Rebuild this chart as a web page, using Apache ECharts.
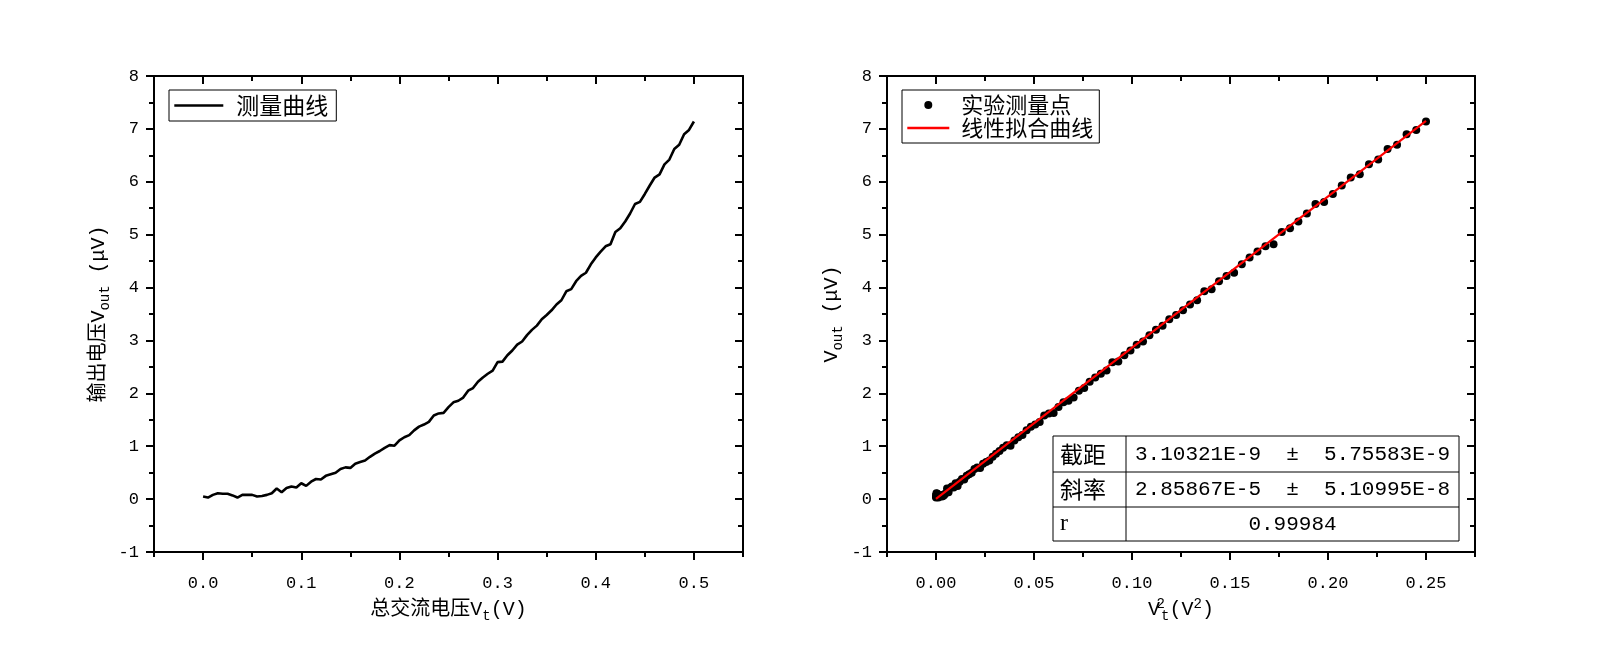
<!DOCTYPE html>
<html>
<head>
<meta charset="utf-8">
<script src="https://cdn.jsdelivr.net/npm/echarts@6.0.0/dist/echarts.min.js"></script>
<style>
html,body{margin:0;padding:0;background:#fff;}
#main{width:1597px;height:663px;}
</style>
</head>
<body>
<div id="main"></div>
<script>
// ---- data ----
const vt = [
  0.000,0.005,0.010,0.015,0.020,0.025,0.030,0.035,0.040,0.045,
  0.050,0.055,0.060,0.065,0.070,0.075,0.080,0.085,0.090,0.095,
  0.100,0.105,0.110,0.115,0.120,0.125,0.130,0.135,0.140,0.145,
  0.150,0.155,0.160,0.165,0.170,0.175,0.180,0.185,0.190,0.195,
  0.200,0.205,0.210,0.215,0.220,0.225,0.230,0.235,0.240,0.245,
  0.250,0.255,0.260,0.265,0.270,0.275,0.280,0.285,0.290,0.295,
  0.300,0.305,0.310,0.315,0.320,0.325,0.330,0.335,0.340,0.345,
  0.350,0.355,0.360,0.365,0.370,0.375,0.380,0.385,0.390,0.395,
  0.400,0.405,0.410,0.415,0.420,0.425,0.430,0.435,0.440,0.445,
  0.450,0.455,0.460,0.465,0.470,0.475,0.480,0.485,0.490,0.495,
  0.500
];
const vout = [
  0.05,0.03,0.08,0.11,0.10,0.10,0.07,0.03,0.08,0.08,
  0.08,0.05,0.06,0.08,0.11,0.20,0.13,0.21,0.24,0.22,
  0.30,0.25,0.33,0.38,0.37,0.44,0.47,0.50,0.57,0.60,
  0.59,0.67,0.70,0.73,0.80,0.86,0.91,0.97,1.02,1.01,
  1.11,1.17,1.21,1.30,1.37,1.41,1.46,1.58,1.62,1.63,
  1.74,1.83,1.86,1.92,2.05,2.10,2.22,2.30,2.37,2.43,
  2.59,2.60,2.72,2.81,2.92,2.98,3.10,3.20,3.28,3.40,
  3.48,3.57,3.68,3.76,3.93,3.97,4.12,4.22,4.28,4.44,
  4.57,4.68,4.78,4.82,5.05,5.12,5.25,5.40,5.58,5.62,
  5.77,5.93,6.08,6.14,6.33,6.42,6.62,6.70,6.90,6.98,
  7.14
];
const xMajorLeft = [0, 0.1, 0.2, 0.3, 0.4, 0.5];
const xMinorLeft = [-0.05, 0.05, 0.15, 0.25, 0.35, 0.45, 0.55];
const xMajorRight = [0, 0.05, 0.10, 0.15, 0.20, 0.25];
const xMinorRight = [-0.025, 0.025, 0.075, 0.125, 0.175, 0.225, 0.275];
const fitIntercept = 3.10321e-3;   // μV  (3.10321E-9 V)
const fitSlope = 28.5867;          // μV/V² (2.85867E-5 V/V²)
const fitRange = [0, 0.25];
const tableLabels = ['截距', '斜率', 'r'];
const tableValues = ['3.10321E-9  ±  5.75583E-9', '2.85867E-5  ±  5.10995E-8', '0.99984'];
const legendLeft = ['测量曲线'];
const legendRight = ['实验测量点', '线性拟合曲线'];

// ---- styling ----
const MONO = "'Liberation Mono', 'Noto Sans CJK SC', monospace";
const SERIF = "'Liberation Serif', serif";
const CJK = "'Noto Sans CJK SC', 'Liberation Serif', sans-serif";
const BLACK = '#000';
const RED = '#ff0000';

const richName = {
  sb: { fontSize: 14, verticalAlign: 'bottom', fontFamily: MONO, color: BLACK },
  sp: { fontSize: 14, verticalAlign: 'top', fontFamily: MONO, color: BLACK },
  spz: { fontSize: 14, verticalAlign: 'top', fontFamily: MONO, color: BLACK, width: 1 }
};

function nameStyle() {
  return { fontSize: 20, fontFamily: MONO, color: BLACK, lineHeight: 26, rich: richName };
}

function xAxesFor(gi, min, max, majors, minors, decimals, name) {
  const line = { show: true, onZero: false, lineStyle: { color: BLACK, width: 2 } };
  const noLine = { show: false, onZero: false };
  const base = { type: 'value', gridIndex: gi, min: min, max: max, splitLine: { show: false } };
  return [
    Object.assign({}, base, {
      position: 'bottom', axisLine: line,
      axisTick: { show: true, inside: false, length: 8, customValues: majors, lineStyle: { color: BLACK, width: 2 } },
      axisLabel: { show: true, customValues: majors, margin: 23, fontSize: 17, fontFamily: MONO, color: BLACK,
        formatter: v => Number(v).toFixed(decimals) },
      name: name, nameLocation: 'middle', nameGap: 44, nameTextStyle: nameStyle()
    }),
    Object.assign({}, base, {
      position: 'bottom', axisLine: noLine,
      axisTick: { show: true, inside: false, length: 5, customValues: minors, lineStyle: { color: BLACK, width: 2 } },
      axisLabel: { show: false }
    }),
    Object.assign({}, base, {
      position: 'top', axisLine: line,
      axisTick: { show: true, inside: true, length: 8, customValues: majors, lineStyle: { color: BLACK, width: 2 } },
      axisLabel: { show: false }
    }),
    Object.assign({}, base, {
      position: 'top', axisLine: noLine,
      axisTick: { show: true, inside: true, length: 5, customValues: minors, lineStyle: { color: BLACK, width: 2 } },
      axisLabel: { show: false }
    })
  ];
}

function yAxesFor(gi, name) {
  const base = { type: 'value', gridIndex: gi, min: -1, max: 8, interval: 1, splitLine: { show: false } };
  return [
    Object.assign({}, base, {
      position: 'left',
      axisLine: { show: true, onZero: false, lineStyle: { color: BLACK, width: 2 } },
      axisTick: { show: true, inside: false, length: 8, lineStyle: { color: BLACK, width: 2 } },
      minorTick: { show: true, splitNumber: 2, length: 5, lineStyle: { color: BLACK, width: 2 } },
      axisLabel: { show: true, margin: 15, fontSize: 17, fontFamily: MONO, color: BLACK },
      name: name, nameLocation: 'middle', nameGap: 42, nameRotate: 90, nameTextStyle: nameStyle()
    }),
    Object.assign({}, base, {
      position: 'right',
      axisLine: { show: true, onZero: false, lineStyle: { color: BLACK, width: 2 } },
      axisTick: { show: true, inside: true, length: 8, lineStyle: { color: BLACK, width: 2 } },
      minorTick: { show: true, splitNumber: 2, length: 5, lineStyle: { color: BLACK, width: 2 } },
      axisLabel: { show: false }
    })
  ];
}

// ---- table graphic ----
const T = { left: 1053, right: 1459, col: 1126, rows: [436, 472, 507, 541] };
const tableChildren = [];
tableChildren.push({ type: 'rect', shape: { x: T.left, y: T.rows[0], width: T.right - T.left, height: T.rows[3] - T.rows[0] },
  style: { fill: '#fff', stroke: BLACK, lineWidth: 1 } });
for (let i = 1; i < T.rows.length - 1; i++) {
  tableChildren.push({ type: 'line', shape: { x1: T.left, y1: T.rows[i], x2: T.right, y2: T.rows[i] }, style: { stroke: BLACK, lineWidth: 1 } });
}
tableChildren.push({ type: 'line', shape: { x1: T.col, y1: T.rows[0], x2: T.col, y2: T.rows[3] }, style: { stroke: BLACK, lineWidth: 1 } });
tableLabels.forEach((lab, i) => {
  const cy = (T.rows[i] + T.rows[i + 1]) / 2;
  tableChildren.push({ type: 'text', x: T.left + 7, y: cy,
    style: { text: lab, fontSize: i === 2 ? 24 : 23, fontFamily: i === 2 ? SERIF : CJK, fill: BLACK, align: 'left', verticalAlign: 'middle' } });
  tableChildren.push({ type: 'text', x: (T.col + T.right) / 2, y: cy,
    style: { text: tableValues[i], fontSize: 21, fontFamily: MONO, fill: BLACK, align: 'center', verticalAlign: 'middle' } });
});

const chart = echarts.init(document.getElementById('main'), null, { renderer: 'canvas' });
chart.setOption({
  animation: false,
  backgroundColor: '#fff',
  grid: [
    { left: 154, right: 854, top: 76, bottom: 111, containLabel: false },
    { left: 887, right: 122, top: 76, bottom: 111, containLabel: false }
  ],
  xAxis: [].concat(
    xAxesFor(0, -0.05, 0.55, xMajorLeft, xMinorLeft, 1, '总交流电压V{sb|t}(V)'),
    xAxesFor(1, -0.025, 0.275, xMajorRight, xMinorRight, 2, 'V{spz|2}{sb|t}(V{sp|2})')
  ),
  yAxis: [].concat(
    yAxesFor(0, '输出电压V{sb|out} (μV)'),
    yAxesFor(1, 'V{sb|out} (μV)')
  ),
  legend: [
    { data: [{ name: legendLeft[0], itemStyle: { opacity: 0 }, lineStyle: { color: BLACK, width: 2.6 } }],
      left: 169, top: 90, orient: 'vertical', padding: [4, 8, 4, 4],
      itemWidth: 49, itemHeight: 14, borderColor: BLACK, borderWidth: 1, backgroundColor: '#fff',
      textStyle: { fontSize: 23, fontFamily: CJK, color: BLACK, padding: [0, 0, 0, 8] } },
    { data: [{ name: legendRight[0] }, { name: legendRight[1], itemStyle: { opacity: 0 }, lineStyle: { color: RED, width: 2.6 } }],
      left: 902, top: 90, orient: 'vertical', padding: [4, 6, 4, 4], itemGap: 1,
      itemWidth: 42, itemHeight: 8, borderColor: BLACK, borderWidth: 1, backgroundColor: '#fff',
      textStyle: { fontSize: 22, fontFamily: CJK, color: BLACK, padding: [0, 0, 0, 7] } }
  ],
  series: [
    { type: 'line', name: legendLeft[0], xAxisIndex: 0, yAxisIndex: 0,
      data: vt.map((x, i) => [x, vout[i]]), symbol: 'none', showSymbol: false,
      lineStyle: { color: BLACK, width: 2.6 }, itemStyle: { color: BLACK } },
    { type: 'scatter', name: legendRight[0], xAxisIndex: 4, yAxisIndex: 2,
      data: vt.map((x, i) => [x * x, vout[i]]), symbol: 'circle', symbolSize: 8,
      itemStyle: { color: BLACK, opacity: 1 } },
    { type: 'line', name: legendRight[1], xAxisIndex: 4, yAxisIndex: 2, z: 5,
      data: fitRange.map(x => [x, fitIntercept + fitSlope * x]), symbol: 'none', showSymbol: false,
      lineStyle: { color: RED, width: 2.2 }, itemStyle: { color: RED } }
  ],
  graphic: [{ type: 'group', z: 100, children: tableChildren }]
});
</script>
</body>
</html>
